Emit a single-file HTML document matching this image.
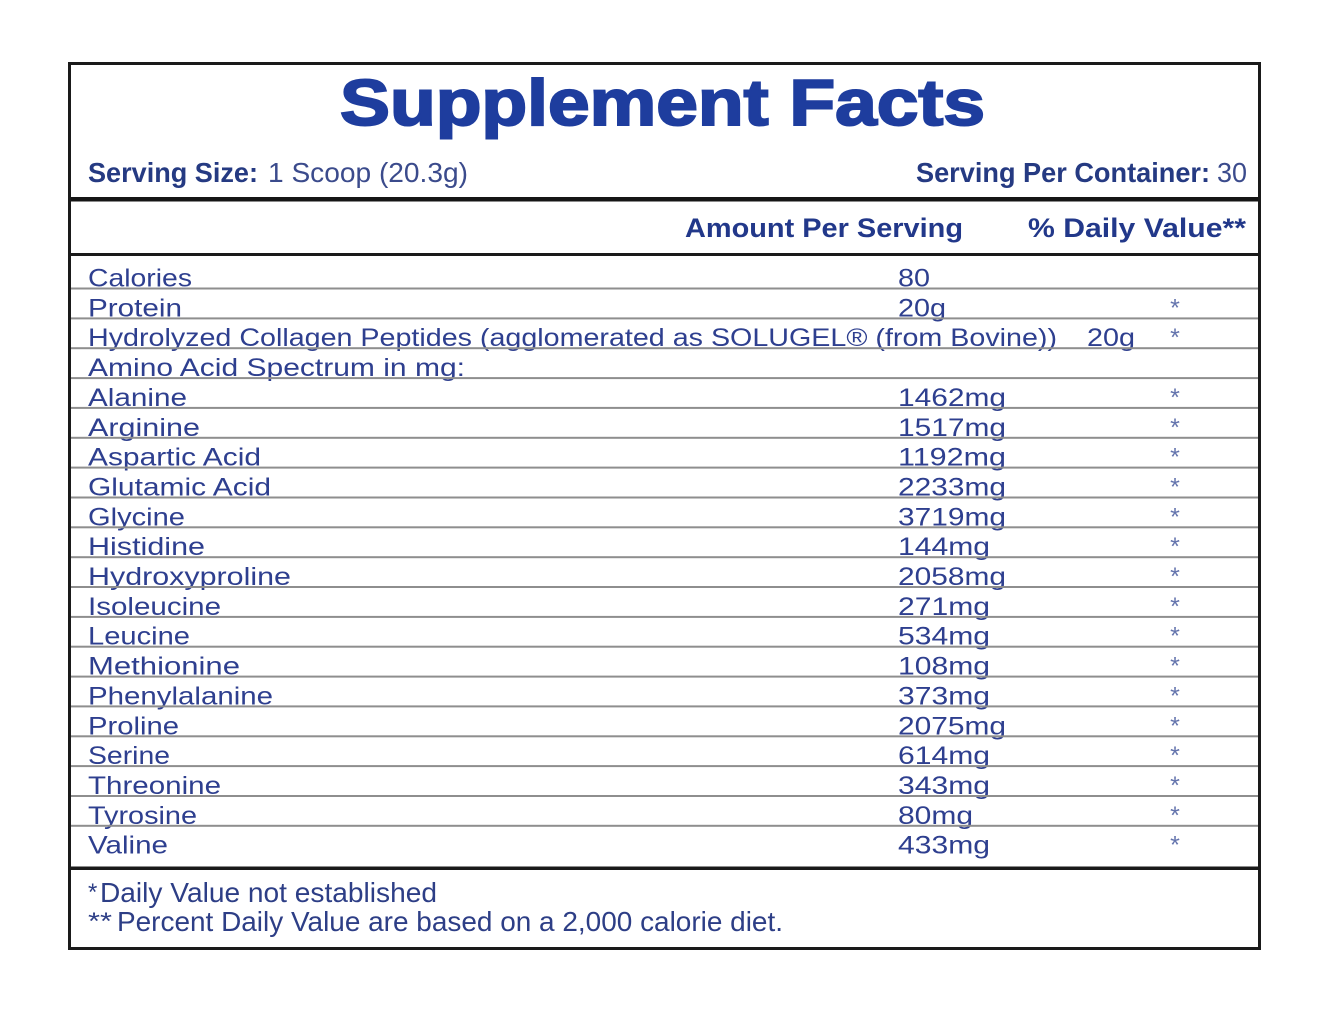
<!DOCTYPE html>
<html><head><meta charset="utf-8"><style>
html,body{margin:0;padding:0;background:#fff;}
svg{display:block;}
</style></head><body>
<svg width="1338" height="1034" viewBox="0 0 1338 1034" xmlns="http://www.w3.org/2000/svg">
<rect x="0" y="0" width="1338" height="1034" fill="#fff"/>
<!-- Title -->
<text x="340" y="125" font-family="Liberation Sans, sans-serif" font-weight="bold" font-size="65" fill="#1e3d9e" stroke="#1e3d9e" stroke-width="2" textLength="645" lengthAdjust="spacingAndGlyphs">Supplement Facts</text>
<!-- Serving line -->
<g font-family="Liberation Sans, sans-serif" font-size="28">
<text x="88" y="182" font-weight="bold" fill="#253a82" textLength="170" lengthAdjust="spacingAndGlyphs">Serving Size:</text>
<text x="268" y="182" fill="#3b4b8c" textLength="200" lengthAdjust="spacingAndGlyphs">1 Scoop (20.3g)</text>
<text x="916" y="182" font-weight="bold" fill="#253a82" textLength="294" lengthAdjust="spacingAndGlyphs">Serving Per Container:</text>
<text x="1217" y="182" fill="#3b4b8c" textLength="30" lengthAdjust="spacingAndGlyphs">30</text>
</g>
<!-- Header -->
<g font-family="Liberation Sans, sans-serif" font-size="27" font-weight="bold" fill="#22388a">
<text x="685" y="237" textLength="278" lengthAdjust="spacingAndGlyphs">Amount Per Serving</text>
<text x="1028" y="237" textLength="218" lengthAdjust="spacingAndGlyphs">% Daily Value**</text>
</g>
<!-- Rows -->
<g font-family="Liberation Sans, sans-serif" font-size="25" fill="#2e3f8f">
<text x="88" y="286.5" textLength="104" lengthAdjust="spacingAndGlyphs">Calories</text>
<text x="898" y="286.5" textLength="32" lengthAdjust="spacingAndGlyphs">80</text>

<text x="88" y="316.4" textLength="94" lengthAdjust="spacingAndGlyphs">Protein</text>
<text x="898" y="316.4" textLength="48" lengthAdjust="spacingAndGlyphs">20g</text>

<text x="88" y="346.2" textLength="969" lengthAdjust="spacingAndGlyphs">Hydrolyzed Collagen Peptides (agglomerated as SOLUGEL® (from Bovine))</text>
<text x="1087" y="346.2" textLength="48" lengthAdjust="spacingAndGlyphs">20g</text>

<text x="88" y="376.1" textLength="377" lengthAdjust="spacingAndGlyphs">Amino Acid Spectrum in mg:</text>

<text x="88" y="405.9" textLength="99" lengthAdjust="spacingAndGlyphs">Alanine</text>
<text x="898" y="405.9" textLength="108" lengthAdjust="spacingAndGlyphs">1462mg</text>

<text x="88" y="435.8" textLength="112" lengthAdjust="spacingAndGlyphs">Arginine</text>
<text x="898" y="435.8" textLength="108" lengthAdjust="spacingAndGlyphs">1517mg</text>

<text x="88" y="465.6" textLength="173" lengthAdjust="spacingAndGlyphs">Aspartic Acid</text>
<text x="898" y="465.6" textLength="108" lengthAdjust="spacingAndGlyphs">1192mg</text>

<text x="88" y="495.5" textLength="183" lengthAdjust="spacingAndGlyphs">Glutamic Acid</text>
<text x="898" y="495.5" textLength="108" lengthAdjust="spacingAndGlyphs">2233mg</text>

<text x="88" y="525.3" textLength="97" lengthAdjust="spacingAndGlyphs">Glycine</text>
<text x="898" y="525.3" textLength="108" lengthAdjust="spacingAndGlyphs">3719mg</text>

<text x="88" y="555.2" textLength="117" lengthAdjust="spacingAndGlyphs">Histidine</text>
<text x="898" y="555.2" textLength="92" lengthAdjust="spacingAndGlyphs">144mg</text>

<text x="88" y="585.0" textLength="203" lengthAdjust="spacingAndGlyphs">Hydroxyproline</text>
<text x="898" y="585.0" textLength="108" lengthAdjust="spacingAndGlyphs">2058mg</text>

<text x="88" y="614.9" textLength="133" lengthAdjust="spacingAndGlyphs">Isoleucine</text>
<text x="898" y="614.9" textLength="92" lengthAdjust="spacingAndGlyphs">271mg</text>

<text x="88" y="644.7" textLength="102" lengthAdjust="spacingAndGlyphs">Leucine</text>
<text x="898" y="644.7" textLength="92" lengthAdjust="spacingAndGlyphs">534mg</text>

<text x="88" y="674.6" textLength="152" lengthAdjust="spacingAndGlyphs">Methionine</text>
<text x="898" y="674.6" textLength="92" lengthAdjust="spacingAndGlyphs">108mg</text>

<text x="88" y="704.4" textLength="185" lengthAdjust="spacingAndGlyphs">Phenylalanine</text>
<text x="898" y="704.4" textLength="92" lengthAdjust="spacingAndGlyphs">373mg</text>

<text x="88" y="734.3" textLength="91" lengthAdjust="spacingAndGlyphs">Proline</text>
<text x="898" y="734.3" textLength="108" lengthAdjust="spacingAndGlyphs">2075mg</text>

<text x="88" y="764.1" textLength="82" lengthAdjust="spacingAndGlyphs">Serine</text>
<text x="898" y="764.1" textLength="92" lengthAdjust="spacingAndGlyphs">614mg</text>

<text x="88" y="794.0" textLength="133" lengthAdjust="spacingAndGlyphs">Threonine</text>
<text x="898" y="794.0" textLength="92" lengthAdjust="spacingAndGlyphs">343mg</text>

<text x="88" y="823.8" textLength="109" lengthAdjust="spacingAndGlyphs">Tyrosine</text>
<text x="898" y="823.8" textLength="75" lengthAdjust="spacingAndGlyphs">80mg</text>

<text x="88" y="853.7" textLength="80" lengthAdjust="spacingAndGlyphs">Valine</text>
<text x="898" y="853.7" textLength="92" lengthAdjust="spacingAndGlyphs">433mg</text>
</g>
<!-- Stars -->
<g font-family="Liberation Sans, sans-serif" font-size="25" fill="#6474ad" text-anchor="middle">
<text x="1175" y="316.4">*</text>
<text x="1175" y="346.2">*</text>
<text x="1175" y="405.9">*</text>
<text x="1175" y="435.8">*</text>
<text x="1175" y="465.6">*</text>
<text x="1175" y="495.5">*</text>
<text x="1175" y="525.3">*</text>
<text x="1175" y="555.2">*</text>
<text x="1175" y="585.0">*</text>
<text x="1175" y="614.9">*</text>
<text x="1175" y="644.7">*</text>
<text x="1175" y="674.6">*</text>
<text x="1175" y="704.4">*</text>
<text x="1175" y="734.3">*</text>
<text x="1175" y="764.1">*</text>
<text x="1175" y="794.0">*</text>
<text x="1175" y="823.8">*</text>
<text x="1175" y="853.7">*</text>
</g>
<!-- Row lines -->
<g fill="#8e8e8e">
<rect x="70" y="287.5" width="1189" height="2"/>
<rect x="70" y="317.4" width="1189" height="2"/>
<rect x="70" y="347.2" width="1189" height="2"/>
<rect x="70" y="377.1" width="1189" height="2"/>
<rect x="70" y="406.9" width="1189" height="2"/>
<rect x="70" y="436.8" width="1189" height="2"/>
<rect x="70" y="466.6" width="1189" height="2"/>
<rect x="70" y="496.5" width="1189" height="2"/>
<rect x="70" y="526.3" width="1189" height="2"/>
<rect x="70" y="556.2" width="1189" height="2"/>
<rect x="70" y="586.0" width="1189" height="2"/>
<rect x="70" y="615.9" width="1189" height="2"/>
<rect x="70" y="645.7" width="1189" height="2"/>
<rect x="70" y="675.6" width="1189" height="2"/>
<rect x="70" y="705.4" width="1189" height="2"/>
<rect x="70" y="735.3" width="1189" height="2"/>
<rect x="70" y="765.1" width="1189" height="2"/>
<rect x="70" y="795.0" width="1189" height="2"/>
<rect x="70" y="824.8" width="1189" height="2"/>
</g>
<!-- Footer -->
<g font-family="Liberation Sans, sans-serif" fill="#2d3e86">
<text x="88" y="900" font-size="24">*</text>
<text x="100" y="902" font-size="28" textLength="337" lengthAdjust="spacingAndGlyphs">Daily Value not established</text>
<text x="88" y="929" font-size="24" textLength="24" lengthAdjust="spacingAndGlyphs">**</text>
<text x="117" y="931" font-size="28" textLength="666" lengthAdjust="spacingAndGlyphs">Percent Daily Value are based on a 2,000 calorie diet.</text>
</g>
<!-- Heavy rules -->
<rect x="68" y="197" width="1193" height="4.5" fill="#151515"/>
<rect x="68" y="253" width="1193" height="3" fill="#1a1a1a"/>
<rect x="68" y="866.5" width="1193" height="3.5" fill="#1a1a1a"/>
<!-- Outer box -->
<rect x="69.5" y="63.5" width="1190" height="885" fill="none" stroke="#1a1a1a" stroke-width="3"/>
</svg>
</body></html>
